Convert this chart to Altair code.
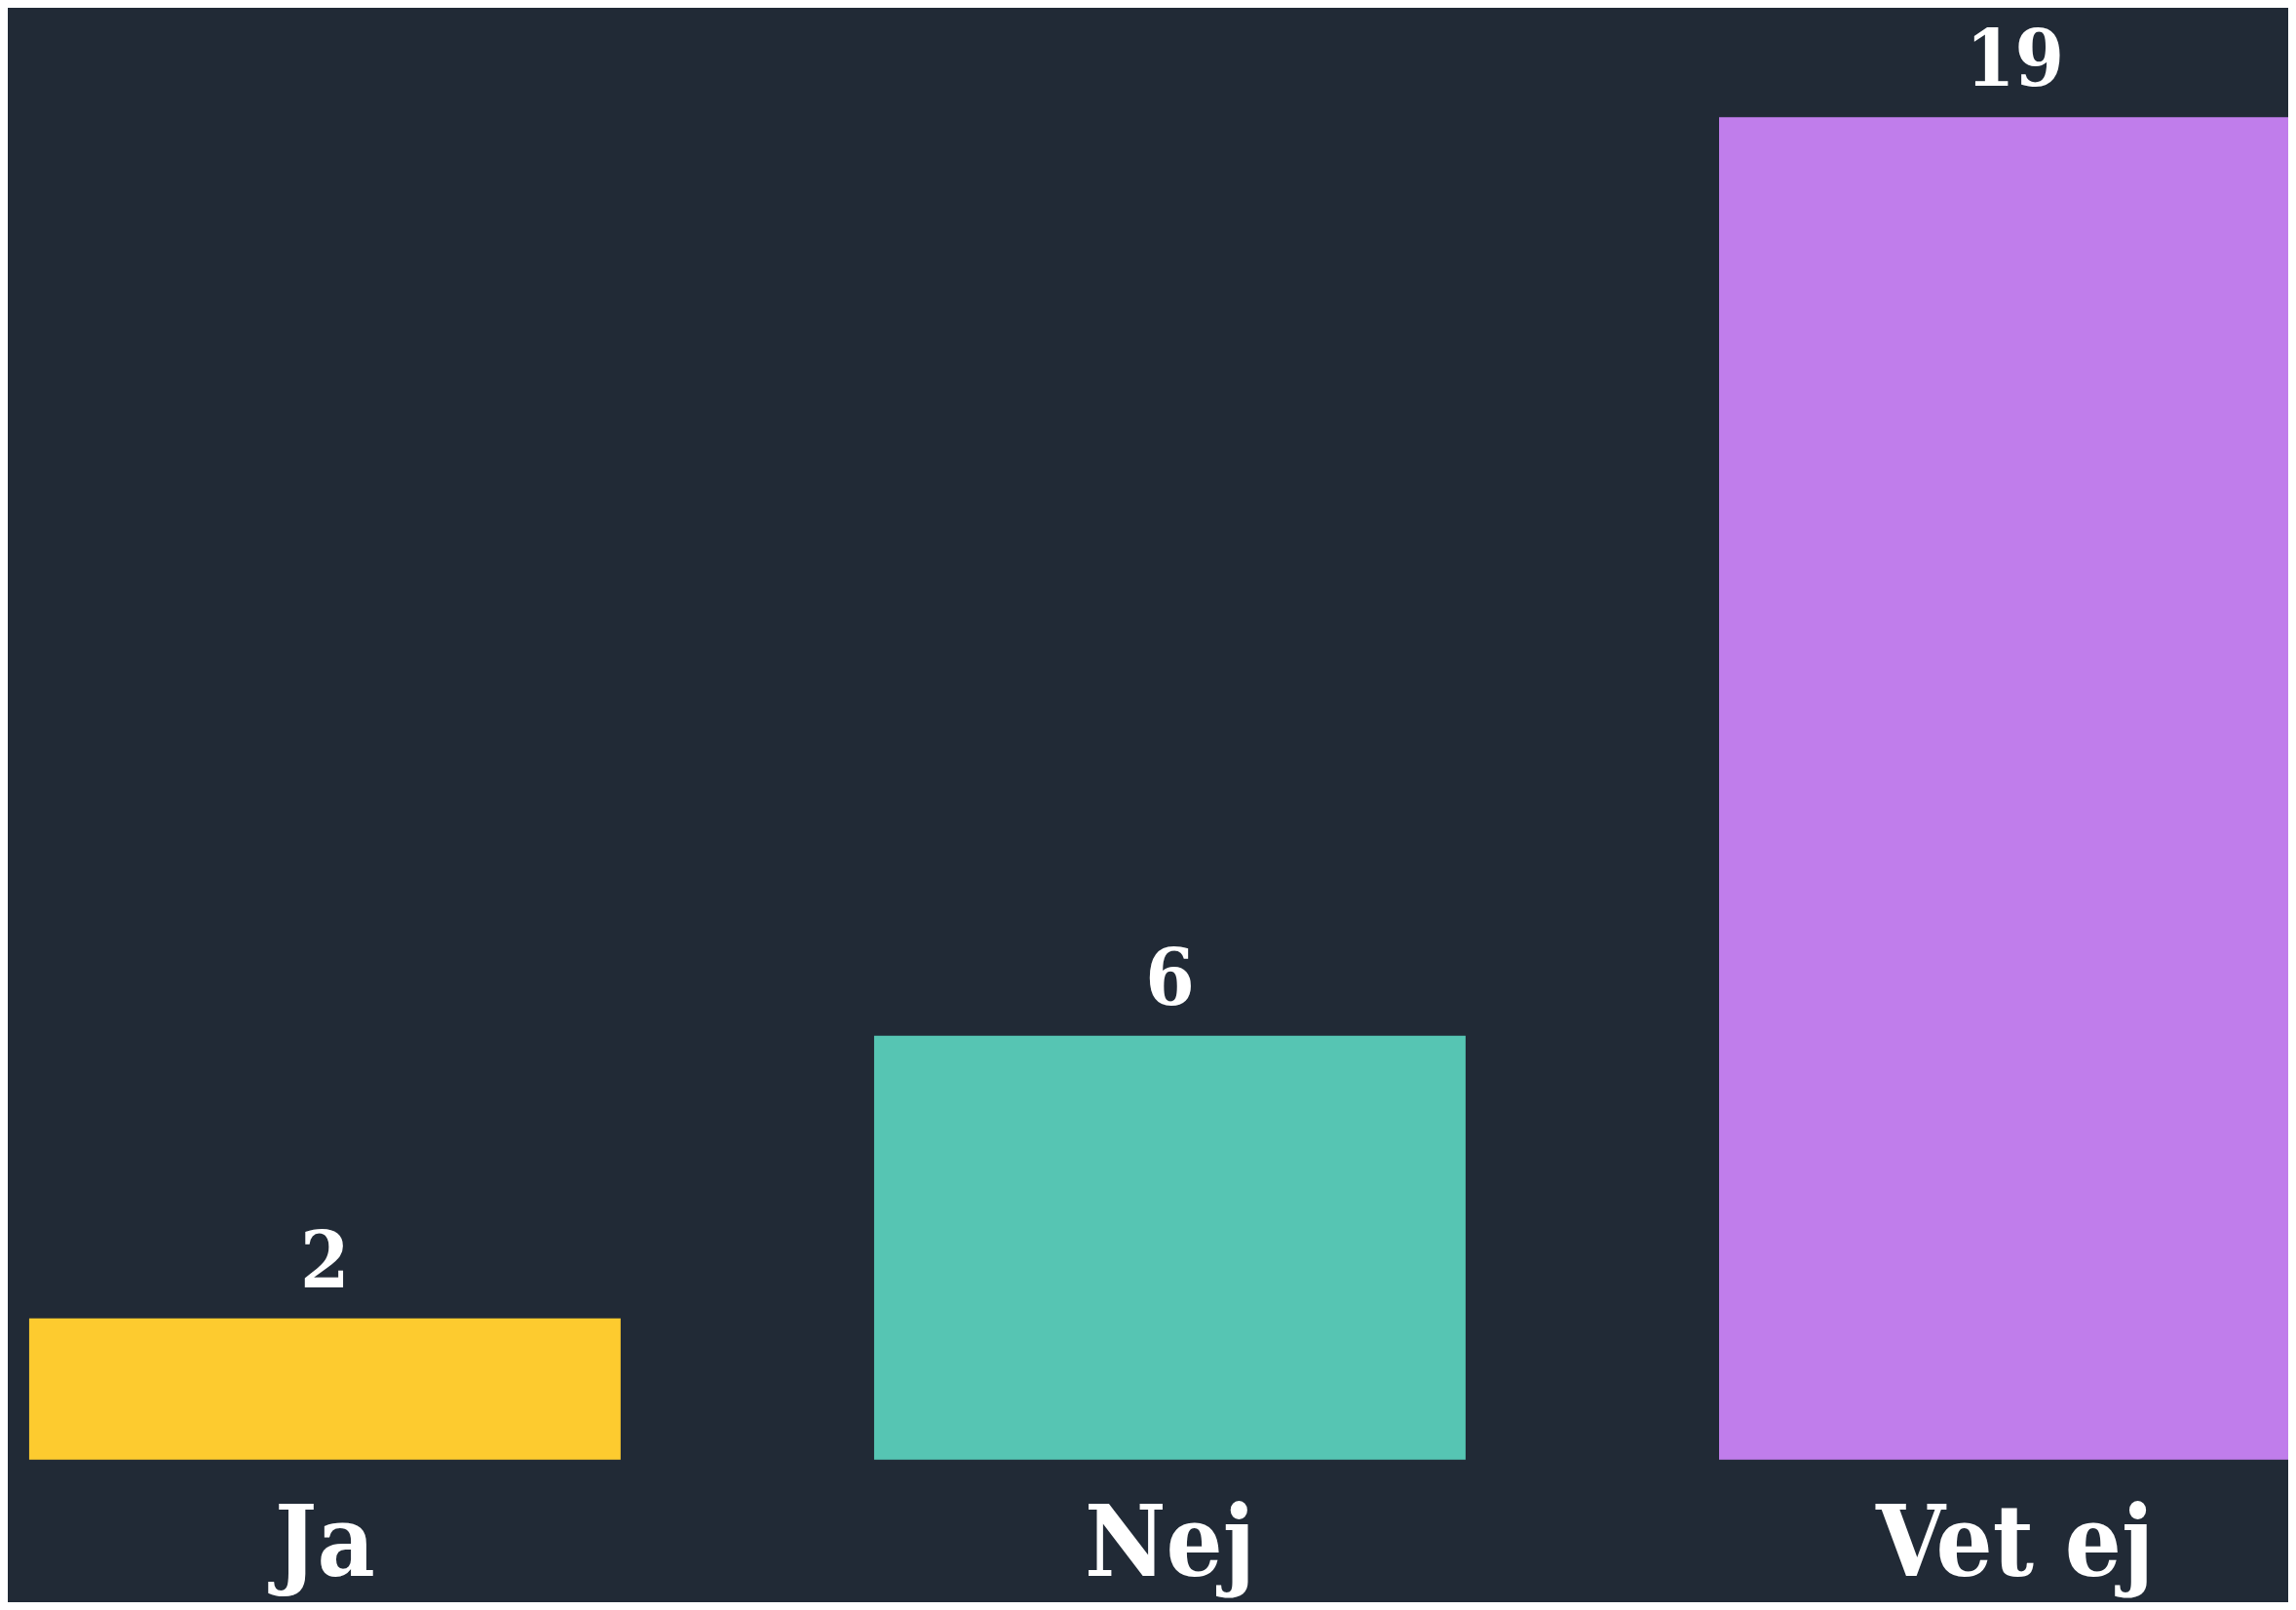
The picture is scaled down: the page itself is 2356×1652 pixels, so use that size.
import altair as alt
import pandas as pd

categories = ["Ja", "Nej", "Vet ej"]
values = [2, 6, 19]
colors = ["#FDCB2F", "#56C5B3", "#C07DEB"]

df = pd.DataFrame({"cat": categories, "val": values})

FONT = "DejaVu Serif Condensed, DejaVu Serif, serif"

x = alt.X(
    "cat:N",
    sort=categories,
    title=None,
    scale=alt.Scale(range=[22, 22 + 870 * 2.7], paddingInner=0.3, paddingOuter=0),
    axis=alt.Axis(
        labelAngle=0,
        labelFont=FONT,
        labelFontWeight="bold",
        labelFontSize=102,
        labelColor="#FFFFFF",
        labelBaseline="alphabetic",
        labelPadding=119,
        labelLimit=0,
        labelOverlap=False,
        ticks=False,
        tickSize=0,
        domain=False,
        grid=False,
    ),
)
y = alt.Y(
    "val:Q",
    title=None,
    scale=alt.Scale(domain=[0, 20.51], nice=False, zero=True),
    axis=None,
)

bars = alt.Chart(df).mark_bar(clip=False).encode(
    x=x,
    y=y,
    color=alt.Color("cat:N", scale=alt.Scale(domain=categories, range=colors), legend=None),
)

labels = alt.Chart(df).mark_text(
    baseline="alphabetic",
    dy=-32,
    font=FONT,
    fontWeight="bold",
    fontSize=81,
    color="#FFFFFF",
).encode(x=x, y=y, text=alt.Text("val:Q"))

chart = (
    alt.layer(bars, labels)
    .properties(
        width=2348,
        height=1492,
        background="#212A36",
        padding={"left": 0, "top": 0, "right": 0, "bottom": 144},
        autosize=alt.AutoSizeParams(type="none"),
    )
    .configure_view(stroke=None)
)

chart.save("out.html", embed_options={"renderer": "svg", "actions": False})
